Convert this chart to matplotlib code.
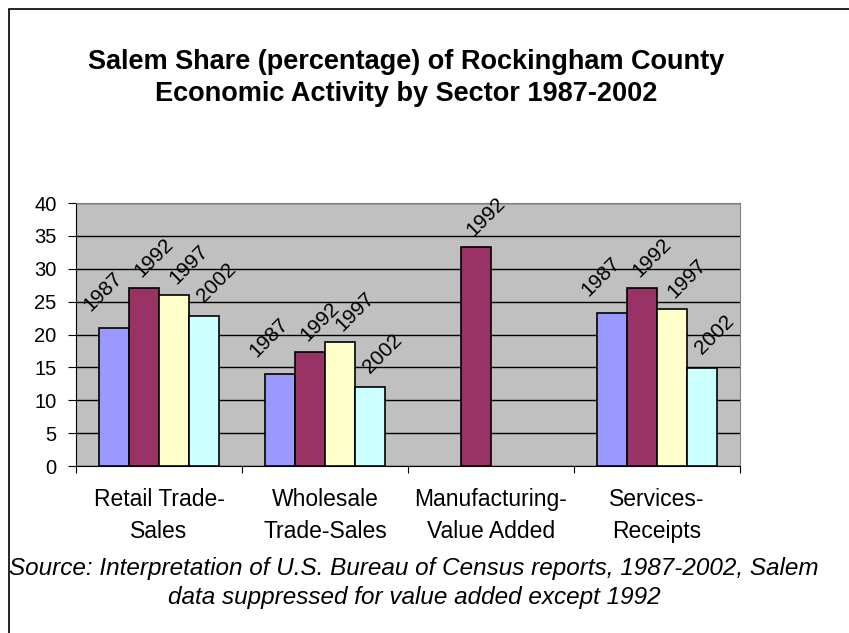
import matplotlib.pyplot as plt
import matplotlib.patches as mpatches
import numpy as np

plt.rcParams['font.family'] = ['Liberation Sans', 'DejaVu Sans']

# sector categories and the share (%) for each census year
sectors = ["Retail Trade-\nSales", "Wholesale\nTrade-Sales",
           "Manufacturing-\nValue Added", "Services-\nReceipts"]
years = ["1987", "1992", "1997", "2002"]
share_1987 = [21.0, 14.0, np.nan, 23.3]
share_1992 = [27.0, 17.3, 33.3, 27.0]
share_1997 = [26.0, 18.9, np.nan, 23.9]
share_2002 = [22.8, 12.0, np.nan, 14.9]
series = [share_1987, share_1992, share_1997, share_2002]

colors = ['#9999FF', '#993366', '#FFFFCC', '#CCFFFF']
# label nudges (points) for each year's rotated labels
label_offsets = [(-8, 26), (7, 22), (11, 22), (9, 24)]

fig = plt.figure(figsize=(8.49, 6.33), dpi=100)
ax = fig.add_axes([0.0895, 0.2638, 0.782, 0.4155])
ax.set_facecolor('#C0C0C0')

x = np.arange(len(sectors))
w = 0.18
for i, vals in enumerate(series):
    pos = x + (i - 1.5) * w
    ax.bar(pos, vals, width=w, color=colors[i], edgecolor='black',
           linewidth=1.2, zorder=3)
    for p, v in zip(pos, vals):
        if np.isnan(v):
            continue
        ax.annotate(years[i], (p, v), xytext=label_offsets[i],
                    textcoords='offset points', ha='center', va='center',
                    rotation=45, fontsize=15, zorder=4)

ax.set_xlim(-0.5, 3.5)
ax.set_ylim(0, 40)
ax.set_yticks(np.arange(0, 41, 5))
ax.yaxis.grid(True, color='black', linewidth=1, zorder=1)
ax.set_axisbelow(True)
ax.tick_params(axis='y', labelsize=14.5, length=6, direction='out', pad=8)

ax.set_xticks(np.arange(-0.5, 4, 1))
ax.set_xticklabels([])
ax.set_xticks(x, minor=True)
ax.set_xticklabels(sectors, minor=True, fontsize=16.5, linespacing=1.5)
ax.tick_params(axis='x', which='major', length=5, direction='out')
ax.tick_params(axis='x', which='minor', length=0, pad=16)

for s in ['top', 'right']:
    ax.spines[s].set_color('#808080')
for s in ['left', 'bottom']:
    ax.spines[s].set_color('black')

fig.text(0.478, 0.877, "Salem Share (percentage) of Rockingham County\n"
         "Economic Activity by Sector 1987-2002", ha='center', va='center',
         fontsize=19.5, fontweight='bold', linespacing=1.3)

fig.text(0.488, 0.079, "Source: Interpretation of U.S. Bureau of Census reports, "
         "1987-2002, Salem\ndata suppressed for value added except 1992",
         ha='center', va='center', fontsize=17.5, style='italic',
         linespacing=1.38)

# chart frame, runs off the right and bottom edges
fig.patches.append(mpatches.Rectangle((9 / 849, -0.1), 1.2, 1.1 - 9 / 633,
                                      transform=fig.transFigure, fill=False,
                                      edgecolor='black', linewidth=1.2))

fig.savefig('out.png', dpi=100)
